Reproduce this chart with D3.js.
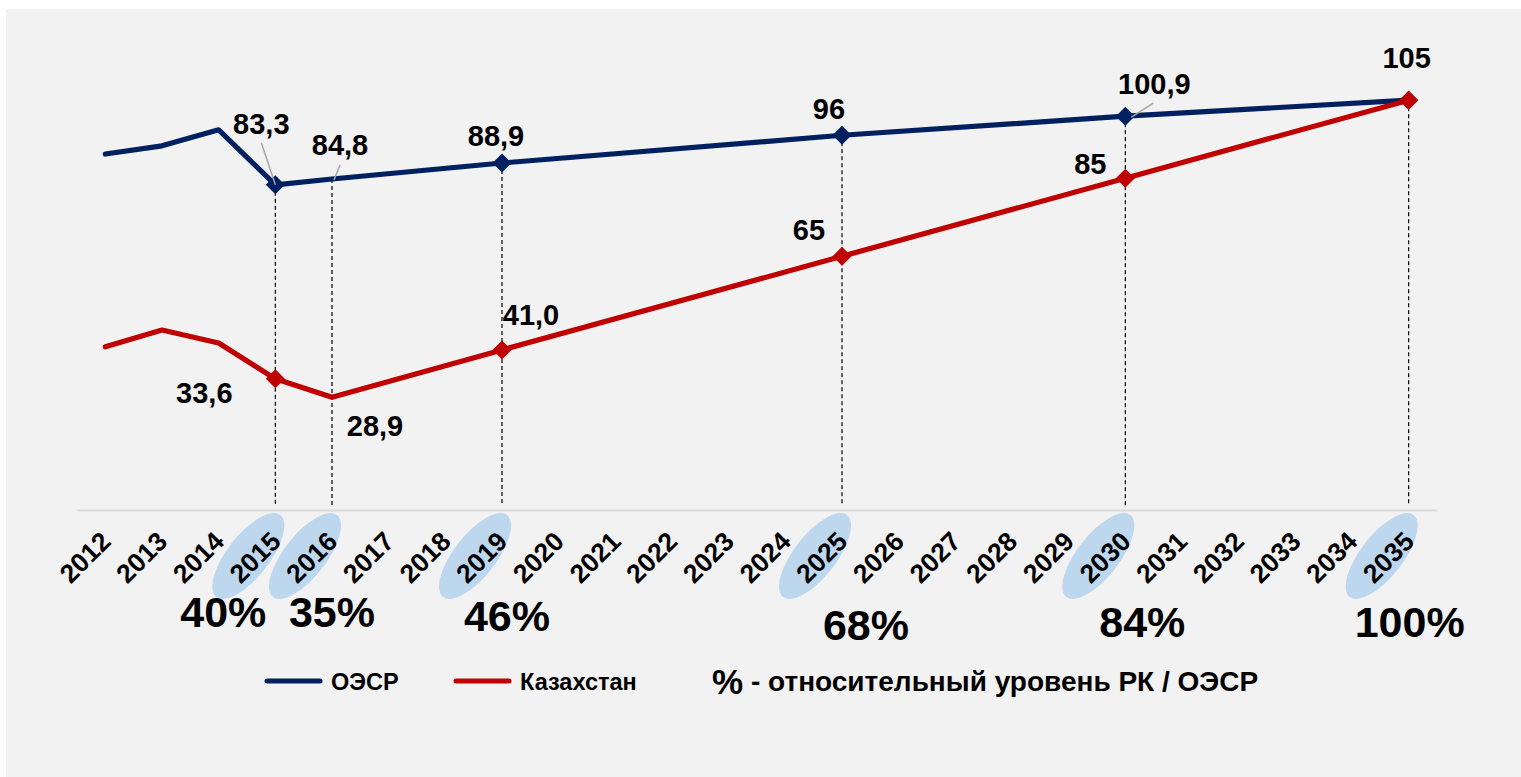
<!DOCTYPE html>
<html>
<head>
<meta charset="utf-8">
<script src="https://cdn.jsdelivr.net/npm/d3@7"></script>
<style>
  html, body { margin: 0; background: #fff; overflow: hidden; }
  svg { display: block; }
  text { font-family: "Liberation Sans", Arial, sans-serif; font-weight: bold; fill: #000; }
</style>
</head>
<body>
<svg id="chart"></svg>
<script>
// data
var years = d3.range(2012, 2036);
var pointYears = [2012, 2013, 2014, 2015, 2016, 2019, 2025, 2030, 2035];
var oecdValues = [91.2, 93.3, 97.4, 83.3, 84.8, 88.9, 96, 100.9, 105];
var kzValues = [41.8, 46.1, 42.8, 33.6, 28.9, 41.0, 65, 85, 105];
var oecdLabels = ["", "", "", "83,3", "84,8", "88,9", "96", "100,9", "105"];
var kzLabels = ["", "", "", "33,6", "28,9", "41,0", "65", "85", ""];
var markerYears = [2015, 2019, 2025, 2030, 2035];
var keyYears = [2015, 2016, 2019, 2025, 2030, 2035];
var ratioLabels = ["40%", "35%", "46%", "68%", "84%", "100%"];
var seriesNames = ["ОЭСР", "Казахстан"];
var noteText = "- относительный уровень РК / ОЭСР";

var colors = {oecd: "#002060", kz: "#C00000"};

// label offsets from the point (text centre)
var oecdOff = {2015: [-14, -61], 2016: [8, -34], 2019: [-6, -27], 2025: [-13, -27], 2030: [29, -33], 2035: [-2, -43]};
var kzOff = {2015: [-71, 14], 2016: [43, 28], 2019: [29, -35], 2025: [-33, -27], 2030: [-35, -15]};
var leaders = [
  {year: 2015, from: [-14, -42], to: [0, 0]},
  {year: 2016, from: [8, -14], to: [2, 1]},
  {year: 2030, from: [28, -13], to: [6, 1]}
];
var ratioOff = [-52, 0, 5, 24, 17, 1];
var ratioY = [612, 612, 616, 625, 622, 622];

var W = 1521, H = 777;
var svg = d3.select("#chart").attr("width", W).attr("height", H);

svg.append("rect").attr("x", 6).attr("y", 9).attr("width", W - 6).attr("height", H - 9).attr("fill", "#f2f2f2");

var x = d3.scaleBand().domain(years).range([77, 1437]).padding(0);
var y = d3.scaleLinear().domain([0, 120]).range([510, 41.6]);
var cx = function(yr) { return x(yr) + x.bandwidth() / 2; };

// ellipses behind key year labels
svg.append("g").selectAll("ellipse")
  .data(keyYears)
  .enter().append("ellipse")
    .attr("transform", function(d) { return "translate(" + (cx(d) - 27) + ",556) rotate(-52)"; })
    .attr("rx", 52)
    .attr("ry", 21)
    .attr("fill", "#BDD7EE");

// x axis
var axis = svg.append("g")
    .attr("transform", "translate(0," + y(0) + ")")
    .call(d3.axisBottom(x).tickSize(0).tickPadding(0));
axis.select(".domain").attr("stroke", "#d9d9d9").attr("stroke-width", 2);
axis.selectAll(".tick text")
    .attr("font-size", "26.5px")
    .attr("font-family", "Liberation Sans, Arial, sans-serif")
    .attr("font-weight", "bold")
    .attr("fill", "#000")
    .attr("text-anchor", "end")
    .attr("dy", null)
    .attr("y", 0)
    .attr("transform", "translate(7,33) rotate(-45)");

// dashed drop lines
var oecdByYear = {}, kzByYear = {};
pointYears.forEach(function(yr, i) { oecdByYear[yr] = oecdValues[i]; kzByYear[yr] = kzValues[i]; });

svg.append("g").selectAll("line")
  .data(keyYears)
  .enter().append("line")
    .attr("x1", function(d) { return cx(d); })
    .attr("x2", function(d) { return cx(d); })
    .attr("y1", function(d) { return y(oecdByYear[d]); })
    .attr("y2", y(0) - 4)
    .attr("stroke", "#000")
    .attr("stroke-width", 1.2)
    .attr("stroke-dasharray", "4,3");

// lines
var line = d3.line()
    .x(function(d) { return cx(d[0]); })
    .y(function(d) { return y(d[1]); });

var oecdPts = pointYears.map(function(yr, i) { return [yr, oecdValues[i]]; });
var kzPts = pointYears.map(function(yr, i) { return [yr, kzValues[i]]; });

svg.append("path").datum(oecdPts)
    .attr("d", line).attr("fill", "none")
    .attr("stroke", colors.oecd).attr("stroke-width", 5.2).attr("stroke-linejoin", "round").attr("stroke-linecap", "round");
svg.append("path").datum(kzPts)
    .attr("d", line).attr("fill", "none")
    .attr("stroke", colors.kz).attr("stroke-width", 5.2).attr("stroke-linejoin", "round").attr("stroke-linecap", "round");

// markers
var diamond = d3.symbol().type(d3.symbolSquare).size(180);
function addMarkers(byYear, color) {
  svg.append("g").selectAll("path")
    .data(markerYears)
    .enter().append("path")
      .attr("d", diamond)
      .attr("transform", function(d) { return "translate(" + cx(d) + "," + y(byYear[d]) + ") rotate(45)"; })
      .attr("fill", color);
}
addMarkers(oecdByYear, colors.oecd);
addMarkers(kzByYear, colors.kz);

// leader lines
svg.append("g").selectAll("line")
  .data(leaders)
  .enter().append("line")
    .attr("x1", function(d) { return cx(d.year) + d.from[0]; })
    .attr("y1", function(d) { return y(oecdByYear[d.year]) + d.from[1]; })
    .attr("x2", function(d) { return cx(d.year) + d.to[0]; })
    .attr("y2", function(d) { return y(oecdByYear[d.year]) + d.to[1]; })
    .attr("stroke", "#a6a6a6")
    .attr("stroke-width", 1.5);

// data labels
function addLabels(vals, labels, off) {
  svg.append("g").selectAll("text")
    .data(pointYears.map(function(yr, i) { return {year: yr, v: vals[i], t: labels[i]}; })
      .filter(function(d) { return d.t !== ""; }))
    .enter().append("text")
      .attr("x", function(d) { return cx(d.year) + off[d.year][0]; })
      .attr("y", function(d) { return y(d.v) + off[d.year][1] + 10.5; })
      .attr("text-anchor", "middle")
      .attr("font-size", "29px")
      .text(function(d) { return d.t; });
}
addLabels(oecdValues, oecdLabels, oecdOff);
addLabels(kzValues, kzLabels, kzOff);

// ratio labels under axis
svg.append("g").selectAll("text")
  .data(keyYears)
  .enter().append("text")
    .attr("x", function(d, i) { return cx(d) + ratioOff[i]; })
    .attr("y", function(d, i) { return ratioY[i] + 15; })
    .attr("text-anchor", "middle")
    .attr("font-size", "43px")
    .text(function(d, i) { return ratioLabels[i]; });

// legend
var legend = svg.append("g").attr("transform", "translate(0,681)");
var legendItems = [
  {name: seriesNames[0], color: colors.oecd, x: 265},
  {name: seriesNames[1], color: colors.kz, x: 454}
];
var li = legend.selectAll("g").data(legendItems).enter().append("g")
    .attr("transform", function(d) { return "translate(" + d.x + ",0)"; });
li.append("line").attr("x1", 2).attr("x2", 55).attr("y1", 0).attr("y2", 0)
    .attr("stroke", function(d) { return d.color; }).attr("stroke-width", 5).attr("stroke-linecap", "round");
li.append("text").attr("x", 66).attr("y", 8.5).attr("font-size", "23.5px").text(function(d) { return d.name; });

var note = legend.append("text").attr("x", 712).attr("y", 10);
note.append("tspan").attr("font-size", "35px").attr("dy", 3).text("%");
note.append("tspan").attr("font-size", "28px").attr("dy", -3).text(" " + noteText);
</script>
</body>
</html>
